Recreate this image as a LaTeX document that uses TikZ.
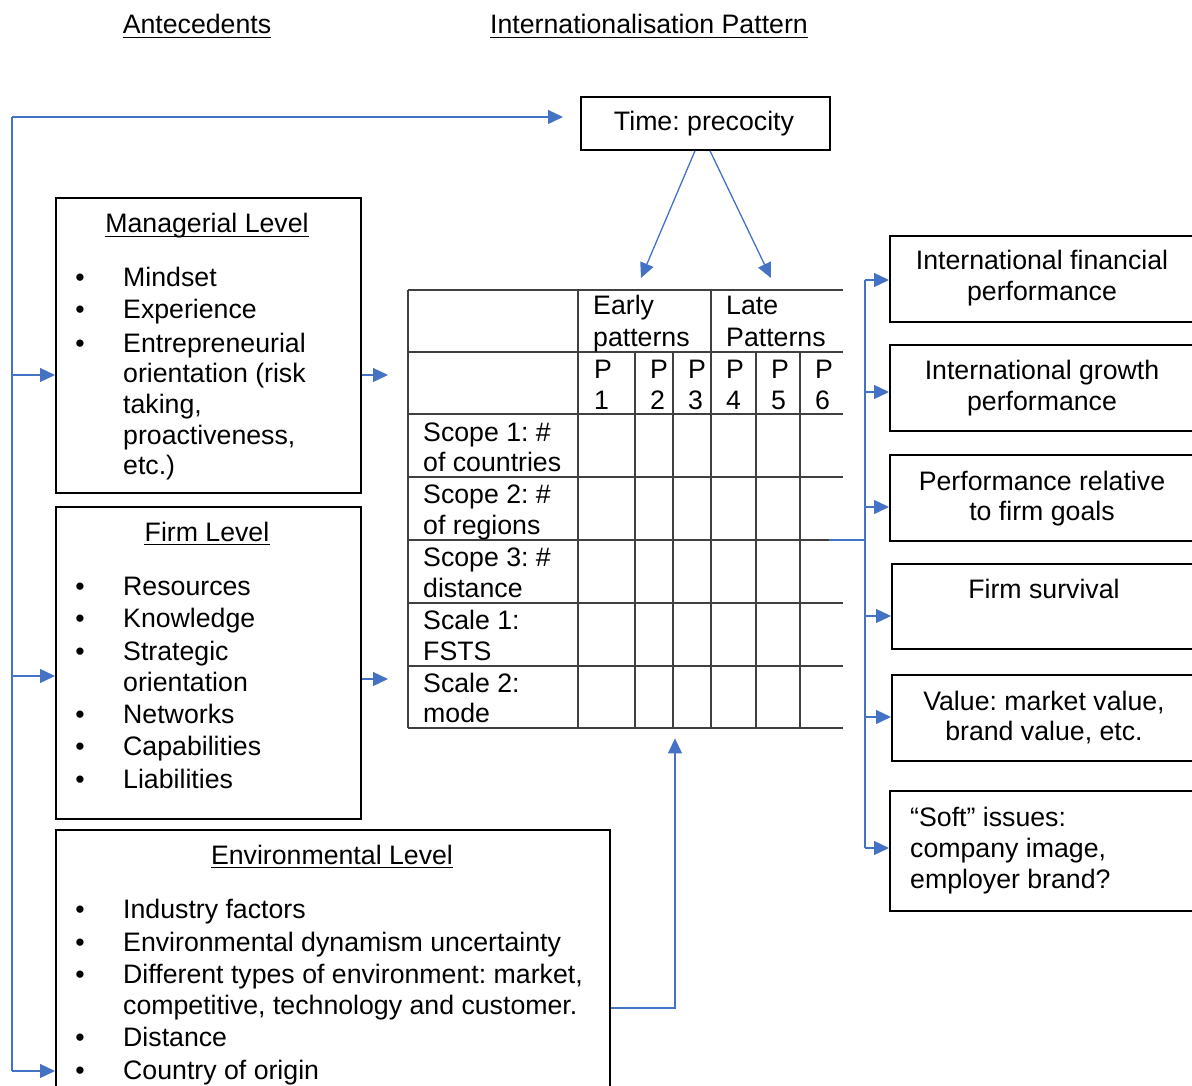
\documentclass[tikz,border=0pt]{standalone}
\usepackage{fontspec}
\setmainfont{Liberation Sans}
\usetikzlibrary{arrows.meta}
\definecolor{linkblue}{RGB}{68,114,196}
\definecolor{gridgray}{RGB}{64,64,64}

\begin{document}
\frenchspacing
\begin{tikzpicture}[x=1pt,y=-1pt,
  txt/.style={inner sep=0pt, anchor=base west, font=\fontsize{26.7}{31}\selectfont\frenchspacing},
  ctxt/.style={txt, anchor=base},
  frame/.style={draw=black, line width=1.8pt, inner sep=0pt, anchor=north west},
  link/.style={draw=linkblue, line width=1.3pt},
  tip/.style={-{Triangle[length=15pt,width=14pt]}},
  gridline/.style={draw=gridgray, line width=1.3pt},
  title/.style={ctxt, append after command={
      ([yshift=-3.5pt]\tikzlastnode.base west) edge[draw=black, line width=1.2pt]
      ([yshift=-3.5pt]\tikzlastnode.base east)}}]

\useasboundingbox (0,0) rectangle (1192,1086);
\clip (0,0) rectangle (1192,1086);

% column headings
\node[title] (hAnte) at (197,34) {Antecedents};
\node[title] (hPat) at (649,34) {Internationalisation Pattern};

% time box
\node[frame, minimum width=249pt, minimum height=53pt] (time) at (580,96) {};
\node[ctxt] (timeT) at (704,131) {Time: precocity};

% managerial level
\node[frame, minimum width=305pt, minimum height=295pt] (mgr) at (55,197) {};
\node[title] (mgrT) at (207,233) {Managerial Level};
\foreach \y/\t in {287/Mindset, 319/Experience, 352/Entrepreneurial}
  {\node[ctxt] at (80,\y) {•}; \node[txt] at (123,\y) {\t};}
\foreach \y/\t in {382/orientation (risk, 413/{taking,}, 444/{proactiveness,}, 474/etc.)}
  {\node[txt] at (123,\y) {\t};}

% firm level
\node[frame, minimum width=305pt, minimum height=312pt] (firm) at (55,506) {};
\node[title] (firmT) at (207,541) {Firm Level};
\foreach \y/\t in {595/Resources, 627/Knowledge, 660/Strategic, 723/Networks, 755/Capabilities, 788/Liabilities}
  {\node[ctxt] at (80,\y) {•}; \node[txt] at (123,\y) {\t};}
\node[txt] at (123,691) {orientation};

% environmental level
\node[frame, minimum width=554pt, minimum height=280pt] (env) at (55,829) {};
\node[title] (envT) at (332,864) {Environmental Level};
\foreach \y/\t in {918/Industry factors, 951/Environmental dynamism uncertainty,
  983/{Different types of environment: market,}, 1046/Distance, 1079/Country of origin}
  {\node[ctxt] at (80,\y) {•}; \node[txt] at (123,\y) {\t};}
\node[txt] at (123,1014) {competitive, technology and customer.};

% pattern table
\node[inner sep=0pt, minimum width=435pt, minimum height=438pt, anchor=north west] (tab) at (408,290) {};
\foreach \y in {290,352,414,477,540,603,666,728}
  \draw[gridline] (408,\y) -- (843,\y);
\foreach \x in {408,578,711}
  \draw[gridline] (\x,290) -- (\x,728);
\foreach \x in {635,673,756,800}
  \draw[gridline] (\x,352) -- (\x,728);
\node[txt] at (593,315) {Early};
\node[txt] at (593,346) {patterns};
\node[txt] at (726,315) {Late};
\node[txt] at (726,346) {Patterns};
\foreach \x/\n in {594/1, 650/2, 688/3, 726/4, 771/5, 815/6}
  {\node[txt] at (\x,378) {P}; \node[txt] at (\x,409) {\n};}
\foreach \y/\t in {441/{Scope 1: \#}, 471/of countries, 503/{Scope 2: \#}, 534/of regions,
  566/{Scope 3: \#}, 597/distance, 629/{Scale 1:}, 660/FSTS, 692/{Scale 2:}, 722/mode}
  \node[txt] at (423,\y) {\t};

% outcome boxes
\node[frame, minimum width=310pt, minimum height=86pt] (o1) at (889,235) {};
\node[ctxt] at (1042,270) {International financial};
\node[ctxt] at (1042,301) {performance};
\node[frame, minimum width=310pt, minimum height=86pt] (o2) at (889,344) {};
\node[ctxt] at (1042,379) {International growth};
\node[ctxt] at (1042,410) {performance};
\node[frame, minimum width=310pt, minimum height=86pt] (o3) at (889,454) {};
\node[ctxt] at (1042,490) {Performance relative};
\node[ctxt] at (1042,520) {to firm goals};
\node[frame, minimum width=310pt, minimum height=85pt] (o4) at (891,563) {};
\node[ctxt] at (1044,598) {Firm survival};
\node[frame, minimum width=310pt, minimum height=86pt] (o5) at (891,674) {};
\node[ctxt] at (1044,710) {Value: market value,};
\node[ctxt] at (1044,740) {brand value, etc.};
\node[frame, minimum width=310pt, minimum height=120pt] (o6) at (889,790) {};
\node[txt] at (910,826) {“Soft” issues:};
\node[txt] at (910,857) {company image,};
\node[txt] at (910,888) {employer brand?};

% feedback line on the left
\coordinate (busL) at (12,117);
\coordinate (busLend) at (12,1071);
\draw[link] (busL) -- (busLend);
\draw[link, tip, shorten >=17pt] (busL) -- (time.west |- busL);
\draw[link, tip] (12,375) -- (mgr.west |- 0,375);
\draw[link, tip] (12,676) -- (firm.west |- 0,676);
\draw[link, tip] (busLend) -- (env.west |- busLend);

% antecedents into the table
\draw[link, tip] (mgr.east |- 0,375) -- (388,375);
\draw[link, tip] (firm.east |- 0,679) -- (388,679);
\draw[link, tip] (env.east |- 0,1008) -- (675,1008) -- ([yshift=-10pt]tab.south -| 675,0);

% time into the table
\draw[link, tip] (time.south -| 695,0) -- (641,278);
\draw[link, tip] (time.south -| 710,0) -- (771,278);

% table to outcomes
\draw[link] (829,540) -- (865,540);
\draw[link] (865,280) -- (865,848);
\foreach \y/\b in {280/o1, 392/o2, 507/o3, 616/o4, 717/o5, 848/o6}
  \draw[link, tip] (865,\y) -- (\b.west |- 0,\y);
\end{tikzpicture}
\end{document}
